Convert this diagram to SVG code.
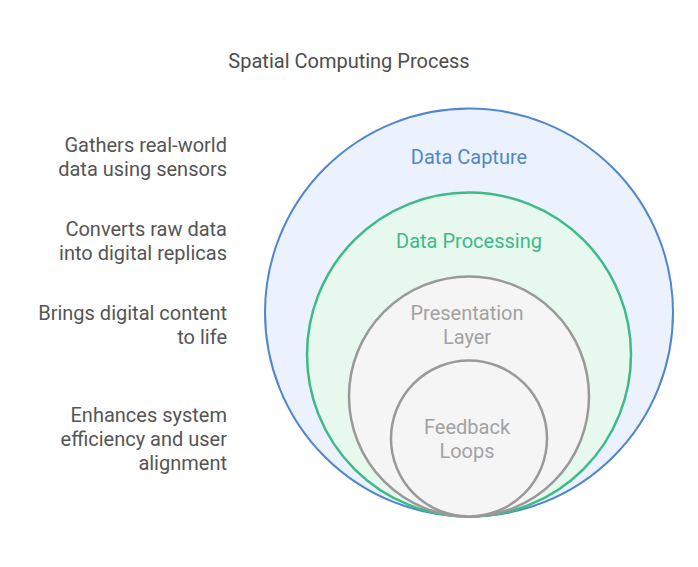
<svg xmlns="http://www.w3.org/2000/svg" width="698" height="567" viewBox="0 0 698 567">
<style>
text{font-family:Roboto,"Liberation Sans",sans-serif;font-size:20px}
.t{fill:#4d4d4d;text-anchor:middle}
.d{fill:#555555;text-anchor:end}
.c{text-anchor:middle}
</style>
<rect width="698" height="567" fill="#ffffff"/>
<text class="t" x="349" y="68">Spatial Computing Process</text>
<g id="capture">
<circle cx="469" cy="312.5" r="204" fill="#ebf2fd" stroke="#4f86cc" stroke-width="2"/>
<text class="c" x="469" y="164" fill="#4f86cc">Data Capture</text>
</g>
<g id="processing">
<circle cx="469" cy="354.5" r="162" fill="#e7f8ef" stroke="#3dba88" stroke-width="2.5"/>
<text class="c" x="469" y="248" fill="#3dba88">Data Processing</text>
</g>
<g id="presentation">
<circle cx="469" cy="396.5" r="120" fill="#f5f5f5" stroke="#999999" stroke-width="2.5"/>
<text class="c" x="467" y="320" fill="#a2a2a2">Presentation</text>
<text class="c" x="467" y="344" fill="#a2a2a2">Layer</text>
</g>
<g id="feedback">
<circle cx="469" cy="438.5" r="78" fill="#f5f5f5" stroke="#999999" stroke-width="2.5"/>
<text class="c" x="467" y="434" fill="#a2a2a2">Feedback</text>
<text class="c" x="467" y="458" fill="#a2a2a2">Loops</text>
</g>
<g id="descriptions">
<text class="d" x="227" y="152">Gathers real-world</text>
<text class="d" x="227" y="176">data using sensors</text>
<text class="d" x="227" y="236">Converts raw data</text>
<text class="d" x="227" y="260">into digital replicas</text>
<text class="d" x="227" y="320">Brings digital content</text>
<text class="d" x="227" y="344">to life</text>
<text class="d" x="227" y="422">Enhances system</text>
<text class="d" x="227" y="446">efficiency and user</text>
<text class="d" x="227" y="470">alignment</text>
</g>
<g id="connectors"></g>
</svg>
